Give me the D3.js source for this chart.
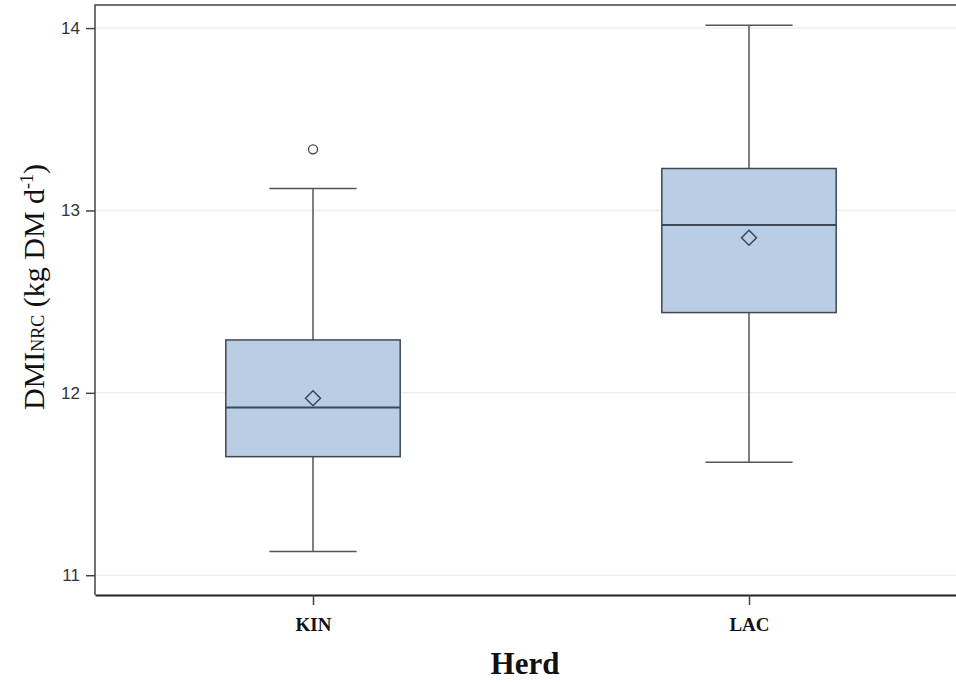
<!DOCTYPE html>
<html>
<head>
<meta charset="utf-8">
<script src="https://cdn.jsdelivr.net/npm/d3@7.9.0/dist/d3.min.js"></script>
<style>
  body { margin: 0; background: #fff; }
  svg { display: block; }
</style>
</head>
<body>
<svg id="chart" width="956" height="682"></svg>
<script>
// box plot stats
const herds = ['KIN', 'LAC'];
const whiskerLow = [11.13, 11.62];
const q1 = [11.65, 12.44];
const median = [11.92, 12.92];
const q3 = [12.29, 13.23];
const whiskerHigh = [13.12, 14.015];
const means = [11.97, 12.85];
const outliers = [[13.335], []];
const yTicks = [11, 12, 13, 14];

const data = herds.map((h, i) => ({
  herd: h, lo: whiskerLow[i], q1: q1[i], med: median[i], q3: q3[i],
  hi: whiskerHigh[i], mean: means[i], out: outliers[i]
}));

const svg = d3.select('#chart');
const plotL = 95, plotR = 967, plotT = 5, plotB = 595;

const x = d3.scalePoint().domain(herds).range([plotL, plotR]).padding(0.5);
const y = d3.scaleLinear().domain([10.8915, 14.1265]).range([plotB, plotT]);
const step = x.step();
const boxW = step * 0.4;
const capW = step * 0.2;

// gridlines
svg.append('g')
  .selectAll('line')
  .data(yTicks)
  .join('line')
  .attr('x1', plotL).attr('x2', 956)
  .attr('y1', d => y(d)).attr('y2', d => y(d))
  .attr('stroke', '#eeeeee').attr('stroke-width', 1.5);

// frame: left + top
svg.append('path')
  .attr('d', `M${plotL},${plotB}V${plotT}H956`)
  .attr('fill', 'none').attr('stroke', '#444').attr('stroke-width', 1.5);

// y axis
const yAxis = svg.append('g')
  .attr('transform', `translate(${plotL},0)`)
  .call(d3.axisLeft(y).tickValues(yTicks).tickSize(9).tickPadding(6).tickFormat(d3.format('d')));
yAxis.select('.domain').remove();
yAxis.selectAll('line').attr('stroke', '#444').attr('stroke-width', 1.5);
yAxis.selectAll('text')
  .style('font-family', 'Liberation Sans, Arial, sans-serif')
  .style('font-size', '17px').attr('fill', '#333');

// x axis
const xAxis = svg.append('g')
  .attr('transform', `translate(0,${plotB})`)
  .call(d3.axisBottom(x).tickSize(10).tickSizeOuter(0).tickPadding(13));
xAxis.select('.domain').attr('stroke', '#222').attr('stroke-width', 2);
xAxis.selectAll('line').attr('stroke', '#444').attr('stroke-width', 1.5);
xAxis.selectAll('text')
  .style('font-family', 'Liberation Serif, Times New Roman, serif')
  .style('font-weight', 'bold').style('font-size', '19px').attr('fill', '#111');

// boxes
const g = svg.append('g').selectAll('g').data(data).join('g');

g.append('line')
  .attr('x1', d => x(d.herd)).attr('x2', d => x(d.herd))
  .attr('y1', d => y(d.hi)).attr('y2', d => y(d.q3))
  .attr('stroke', '#555').attr('stroke-width', 1.5);
g.append('line')
  .attr('x1', d => x(d.herd)).attr('x2', d => x(d.herd))
  .attr('y1', d => y(d.q1)).attr('y2', d => y(d.lo))
  .attr('stroke', '#555').attr('stroke-width', 1.5);
['hi', 'lo'].forEach(k => {
  g.append('line')
    .attr('x1', d => x(d.herd) - capW / 2).attr('x2', d => x(d.herd) + capW / 2)
    .attr('y1', d => y(d[k])).attr('y2', d => y(d[k]))
    .attr('stroke', '#555').attr('stroke-width', 1.5);
});

g.append('rect')
  .attr('x', d => x(d.herd) - boxW / 2).attr('width', boxW)
  .attr('y', d => y(d.q3)).attr('height', d => y(d.q1) - y(d.q3))
  .attr('fill', '#b9cde5').attr('stroke', '#3d4856').attr('stroke-width', 1.5);

g.append('line')
  .attr('x1', d => x(d.herd) - boxW / 2).attr('x2', d => x(d.herd) + boxW / 2)
  .attr('y1', d => y(d.med)).attr('y2', d => y(d.med))
  .attr('stroke', '#3d4856').attr('stroke-width', 2);

// mean diamonds
g.append('path')
  .attr('d', d => {
    const cx = x(d.herd), cy = y(d.mean), r = 7.5;
    return `M${cx},${cy - r}L${cx + r},${cy}L${cx},${cy + r}L${cx - r},${cy}Z`;
  })
  .attr('fill', 'none').attr('stroke', '#3d4856').attr('stroke-width', 1.5);

// outliers
g.selectAll('circle')
  .data(d => d.out.map(v => ({ herd: d.herd, v })))
  .join('circle')
  .attr('cx', d => x(d.herd)).attr('cy', d => y(d.v)).attr('r', 4.5)
  .attr('fill', 'none').attr('stroke', '#444').attr('stroke-width', 1.3);

// axis titles
svg.append('text')
  .attr('x', 525).attr('y', 674)
  .attr('text-anchor', 'middle')
  .attr('font-family', 'Liberation Serif, Times New Roman, serif')
  .attr('font-weight', 'bold').attr('font-size', 31).attr('fill', '#111')
  .text('Herd');

const yt = svg.append('text')
  .attr('transform', 'translate(44,287) rotate(-90)')
  .attr('text-anchor', 'middle')
  .attr('font-family', 'Liberation Serif, Times New Roman, serif')
  .attr('font-size', 30).attr('fill', '#111');
yt.append('tspan').text('DMI');
yt.append('tspan').attr('font-size', 18).text('NRC');
yt.append('tspan').text(' (kg DM d');
yt.append('tspan').attr('font-size', 18).attr('dy', -11).text('-1');
yt.append('tspan').attr('dy', 11).text(')');
</script>
</body>
</html>
